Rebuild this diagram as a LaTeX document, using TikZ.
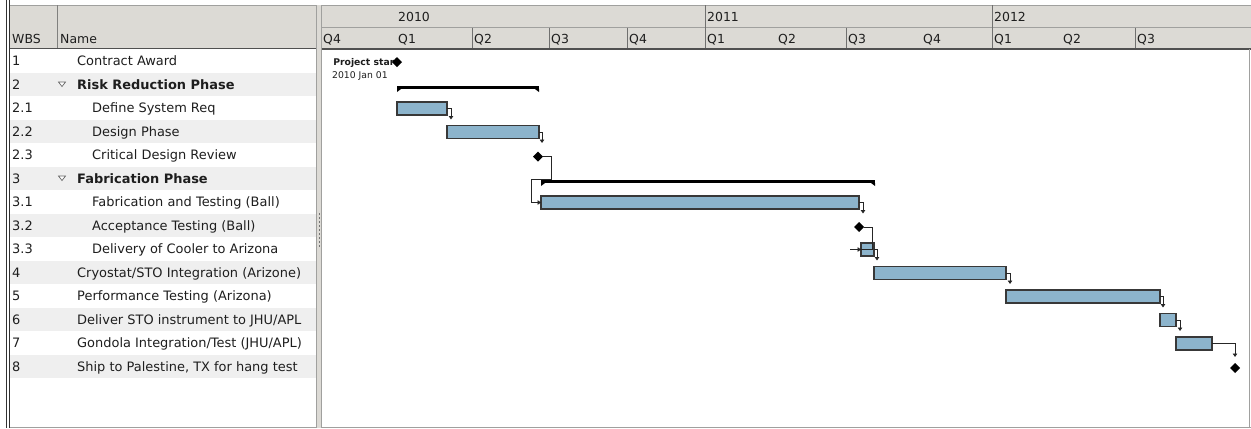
\documentclass[tikz,border=0pt]{standalone}
\usepackage{fontspec}
\setmainfont{DejaVu Sans}
\usetikzlibrary{arrows.meta,shapes.geometric,calc}

\definecolor{hdrgray}{RGB}{220,218,213}
\definecolor{rowgray}{RGB}{239,239,239}
\definecolor{barblue}{RGB}{140,180,204}
\definecolor{edgegray}{RGB}{160,160,158}
\definecolor{darkline}{RGB}{80,80,80}
\definecolor{txt}{RGB}{30,30,30}

\tikzset{
  cell/.style={anchor=base west, inner sep=0pt, text=txt, font=\fontsize{13}{15}\selectfont},
  cellbold/.style={cell, font=\fontsize{13}{15}\selectfont\bfseries},
  hdr/.style={anchor=base west, inner sep=0pt, text=txt, font=\fontsize{12.5}{15}\selectfont},
  taskbar/.style={rectangle, draw=black!78, line width=1.1bp, fill=barblue,
                  inner sep=0pt, outer sep=0pt, minimum height=13bp},
  sumbar/.style={rectangle, fill=black, inner sep=0pt, outer sep=0pt, minimum height=3bp},
  mile/.style={diamond, fill=black, inner sep=0pt, outer sep=0pt, minimum size=10bp},
  dep/.style={draw=black!85, line width=0.9bp, -{Triangle[length=3.5bp,width=4.5bp]}},
  expander/.style={draw=black!60, line width=0.7bp, fill=white},
}

\begin{document}
\begin{tikzpicture}[x=1bp,y=-1bp]
\useasboundingbox (0,0) rectangle (1251,428);
\fill[white] (0,0) rectangle (1251,428);

% ---------- task table ----------
\foreach \i in {1,3,...,13}
  \fill[rowgray] (10,{49+23.5*\i}) rectangle (316,{49+23.5*(\i+1)});

\fill[hdrgray] (10,5) rectangle (316,48.5);
\draw[edgegray] (10,5.5) -- (316,5.5);
\draw[edgegray!80!black] (57.5,5) -- (57.5,48.5);
\draw[darkline] (10,48.5) -- (316,48.5);
\node[hdr] (hwbs) at (12,43) {WBS};
\node[hdr] (hname) at (60,43) {Name};

% window frame on the left and bottom
\draw[black!80] (6.5,0) -- (6.5,428);
\draw[black!80] (9.5,0) -- (9.5,428);
\draw[edgegray] (10,427) -- (1251,427);

% rows: WBS code and task name
\node[cell] (w0)  at (12, 65.5) {1};
\node[cell] (n0)  at (77, 65.5) {Contract Award};
\node[cell] (w1)  at (12, 89)   {2};
\node[cellbold] (n1) at (77, 89) {Risk Reduction Phase};
\node[cell] (w2)  at (12,112.5) {2.1};
\node[cell] (n2)  at (92,112.5) {Define System Req};
\node[cell] (w3)  at (12,136)   {2.2};
\node[cell] (n3)  at (92,136)   {Design Phase};
\node[cell] (w4)  at (12,159.5) {2.3};
\node[cell] (n4)  at (92,159.5) {Critical Design Review};
\node[cell] (w5)  at (12,183)   {3};
\node[cellbold] (n5) at (77,183) {Fabrication Phase};
\node[cell] (w6)  at (12,206.5) {3.1};
\node[cell] (n6)  at (92,206.5) {Fabrication and Testing (Ball)};
\node[cell] (w7)  at (12,230)   {3.2};
\node[cell] (n7)  at (92,230)   {Acceptance Testing (Ball)};
\node[cell] (w8)  at (12,253.5) {3.3};
\node[cell] (n8)  at (92,253.5) {Delivery of Cooler to Arizona};
\node[cell] (w9)  at (12,277)   {4};
\node[cell] (n9)  at (77,277)   {Cryostat/STO Integration (Arizone)};
\node[cell] (w10) at (12,300.5) {5};
\node[cell] (n10) at (77,300.5) {Performance Testing (Arizona)};
\node[cell] (w11) at (12,324)   {6};
\node[cell] (n11) at (77,324)   {Deliver STO instrument to JHU/APL};
\node[cell] (w12) at (12,347.5) {7};
\node[cell] (n12) at (77,347.5) {Gondola Integration/Test (JHU/APL)};
\node[cell] (w13) at (12,371)   {8};
\node[cell] (n13) at (77,371)   {Ship to Palestine, TX for hang test};

% expander triangles of the two phases
\draw[expander] (58.5,82) -- (65.5,82) -- (62,86.5) -- cycle;
\draw[expander] (58.5,176) -- (65.5,176) -- (62,180.5) -- cycle;

% ---------- pane splitter ----------
\fill[hdrgray] (316,5) rectangle (322,428);
\draw[edgegray] (316.5,5) -- (316.5,428);
\draw[edgegray] (321.5,5) -- (321.5,428);
\foreach \yy in {213,217,...,245}
  \fill[black!55] (319,\yy) rectangle ++(1.2,1.6);

% ---------- time scale ----------
\fill[hdrgray] (322,5) rectangle (1251,49);
\draw[edgegray] (322,5.5) -- (1251,5.5);
\draw[edgegray] (322,27.5) -- (1251,27.5);
\foreach \xx in {705.5,992.5}
  \draw[edgegray!70!black] (\xx,5) -- (\xx,27.5);
\foreach \xx in {472.5,549.5,627.5,705.5,846.5,992.5,1135.5}
  \draw[edgegray!70!black] (\xx,27.5) -- (\xx,49);
\draw[darkline, line width=1.6bp] (322,49) -- (1251,49);
\draw[edgegray] (1249.5,49) -- (1249.5,428);

\node[hdr] (y10) at (398,21) {2010};
\node[hdr] (y11) at (707,21) {2011};
\node[hdr] (y12) at (994,21) {2012};
\node[hdr] (q0)  at (323,43)  {Q4};
\node[hdr] (q1)  at (398,43)  {Q1};
\node[hdr] (q2)  at (474,43)  {Q2};
\node[hdr] (q3)  at (551,43)  {Q3};
\node[hdr] (q4)  at (629,43)  {Q4};
\node[hdr] (q5)  at (707,43)  {Q1};
\node[hdr] (q6)  at (778,43)  {Q2};
\node[hdr] (q7)  at (848,43)  {Q3};
\node[hdr] (q8)  at (923,43)  {Q4};
\node[hdr] (q9)  at (994,43)  {Q1};
\node[hdr] (q10) at (1063,43) {Q2};
\node[hdr] (q11) at (1137,43) {Q3};

% ---------- Gantt bars ----------
% project start milestone
\node[anchor=base east, inner sep=0pt, text=txt, font=\fontsize{9.3}{11}\selectfont\bfseries]
  (pslabel) at (399,65.5) {Project start};
\node[anchor=base west, inner sep=0pt, text=txt, font=\fontsize{9.3}{11}\selectfont]
  (psdate) at (332,78) {2010 Jan 01};
\node[mile] (m1) at (397,62) {};

% summary bars of the phases
\node[sumbar, minimum width=142bp] (s2) at (468,87.5) {};
\fill (s2.south west) -- ++(0,3) -- ++(4,-3) -- cycle;
\fill (s2.south east) -- ++(0,3) -- ++(-4,-3) -- cycle;
\node[sumbar, minimum width=334bp] (s3) at (708,181.5) {};
\fill (s3.south west) -- ++(0,3) -- ++(4,-3) -- cycle;
\fill (s3.south east) -- ++(0,3) -- ++(-4,-3) -- cycle;

% task bars
\node[taskbar, minimum width=50bp]  (b21) at (422,108.5) {};
\node[taskbar, minimum width=92bp]  (b22) at (493,132)   {};
\node[taskbar, minimum width=318bp] (b31) at (700,202.5) {};
\node[taskbar, minimum width=13bp]  (b33) at (867.5,249.5) {};
\node[taskbar, minimum width=132bp] (b4)  at (940,273)   {};
\node[taskbar, minimum width=154bp] (b5)  at (1083,296.5) {};
\node[taskbar, minimum width=16bp]  (b6)  at (1168,320)  {};
\node[taskbar, minimum width=36bp]  (b7)  at (1194,343.5) {};

% milestones
\node[mile] (m23) at (538,156.5) {};
\node[mile] (m32) at (859,227)   {};
\node[mile] (m8)  at (1235,368)  {};

% ---------- dependencies ----------
\draw[dep] (b21.east) -- ++(4,0) -- ++(0,11);
\draw[dep] (b22.east) -- ++(3,0) -- ++(0,11);
\draw[dep] (m23.east) -- ++(8.5,0) -- ++(0,22.5) -- ++(-20,0) |- (b31.west);
\draw[dep] (b31.east) -- ++(4,0) -- ++(0,11);
\draw[dep] (m32.east) -- ++(8,0) |- ++(-22,22.5) -- (b33.west);
\draw[dep] (b33.east) -- ++(3,0) -- ++(0,11);
\draw[dep] (b4.east)  -- ++(4,0) -- ++(0,11);
\draw[dep] (b5.east)  -- ++(3,0) -- ++(0,11);
\draw[dep] (b6.east)  -- ++(4,0) -- ++(0,11);
\draw[dep] (b7.east)  -| ($(m8.north)+(0,-6)$);
\end{tikzpicture}
\end{document}
